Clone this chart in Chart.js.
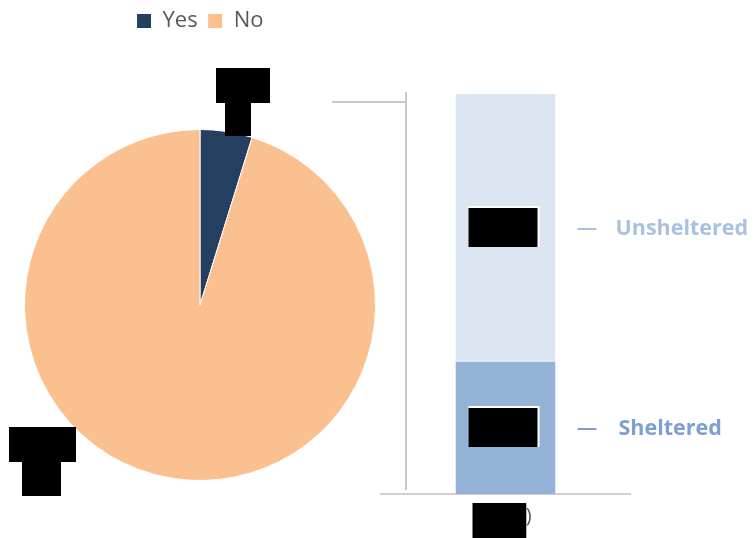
<!DOCTYPE html>
<html>
<head>
<meta charset="utf-8">
<script src="https://cdn.jsdelivr.net/npm/chart.js@4.4.1/dist/chart.umd.min.js"></script>
<style>
  html, body { margin: 0; padding: 0; background: #ffffff; overflow: hidden; }
  #wrap { position: relative; width: 755px; height: 538px; }
  #pieBox { position: absolute; left: 0; top: 0; width: 410px; height: 538px; }
  #barBox { position: absolute; left: 320px; top: 0; width: 435px; height: 538px; }
</style>
</head>
<body>
<div id="wrap">
  <div id="pieBox"><canvas id="pie"></canvas></div>
  <div id="barBox"><canvas id="bar"></canvas></div>
</div>
<script>
// ---- data ----
const pieLabels = ['Yes', 'No'];
const pieValues = [4.8, 95.2];
const pieColors = ['#243f60', '#fac090'];

const barCategories = ['(year)'];
const barSeriesNames = ['Sheltered', 'Unsheltered'];
const shelteredValues = [33];
const unshelteredValues = [67];
const barColors = ['#95b3d7', '#dce6f2'];
const barLabelColors = ['#7ba0d1', '#a9c1e1'];

const FONT = '"Open Sans", "Noto Sans", sans-serif';

// ---- pie chart ----
const legendSpacer = {
  id: 'legendSpacer',
  beforeLayout(chart) {
    const lg = chart.legend;
    if (lg && !lg._patched) {
      const orig = lg.fit.bind(lg);
      lg.fit = function () { orig(); this.height = 72; };
      lg._patched = true;
    }
  }
};

const pieRedact = {
  id: 'pieRedact',
  afterDraw(chart) {
    const ctx = chart.ctx;
    const arc = chart.getDatasetMeta(0).data[0];
    if (!arc) return;
    const cx = arc.x, cy = arc.y;
    ctx.save();
    ctx.fillStyle = '#000000';
    // label for "Yes"
    ctx.fillRect(cx + 16, cy - 237, 54, 35);
    ctx.fillRect(cx + 25, cy - 203, 26, 34);
    // label for "No"
    ctx.fillRect(cx - 191, cy + 122, 67, 35);
    ctx.fillRect(cx - 178, cy + 156, 39, 35);
    ctx.restore();
  }
};

new Chart(document.getElementById('pie'), {
  type: 'pie',
  data: {
    labels: pieLabels,
    datasets: [{
      data: pieValues,
      backgroundColor: pieColors,
      borderColor: '#ffffff',
      borderWidth: 1
    }]
  },
  options: {
    responsive: true,
    maintainAspectRatio: false,
    animation: false,
    layout: { padding: { left: 24, right: 34, top: 0, bottom: 0 } },
    plugins: {
      legend: {
        position: 'top',
        labels: {
          boxWidth: 15,
          boxHeight: 15,
          color: '#595959',
          font: { family: FONT, size: 22 },
          padding: 10
        }
      },
      tooltip: { enabled: false }
    }
  },
  plugins: [legendSpacer, pieRedact]
});

// ---- bar chart ----
const barDecor = {
  id: 'barDecor',
  afterDatasetsDraw(chart) {
    const ctx = chart.ctx;
    const ca = chart.chartArea;
    ctx.save();
    // connector lines
    ctx.strokeStyle = '#c8c8c8';
    ctx.lineWidth = 2;
    ctx.beginPath();
    ctx.moveTo(ca.left + 25, ca.top - 2);
    ctx.lineTo(ca.left + 25, ca.bottom - 4);
    ctx.moveTo(ca.left - 49, ca.top + 8);
    ctx.lineTo(ca.left + 25, ca.top + 8);
    ctx.stroke();

    chart.data.datasets.forEach((ds, i) => {
      const el = chart.getDatasetMeta(i).data[0];
      if (!el) return;
      const cy = (el.y + el.base) / 2;
      const bx = el.x - 37;
      // redacted value label
      ctx.fillStyle = '#ffffff';
      ctx.fillRect(bx, cy - 22, 71, 41);
      ctx.fillStyle = '#000000';
      ctx.fillRect(bx, cy - 20, 69, 39);
      // series name label
      ctx.strokeStyle = barLabelColors[i];
      ctx.lineWidth = 2;
      ctx.beginPath();
      ctx.moveTo(el.x + 72, cy + 1);
      ctx.lineTo(el.x + 91, cy + 1);
      ctx.stroke();
      ctx.fillStyle = barLabelColors[i];
      ctx.font = 'bold 21.5px ' + FONT;
      ctx.textBaseline = 'middle';
      ctx.textAlign = 'left';
      ctx.fillText(ds.label, el.x + (i === 0 ? 113 : 110), cy + 1);
    });
    ctx.restore();
  },
  afterDraw(chart) {
    // redact the category label except the closing parenthesis
    const ctx = chart.ctx;
    const xs = chart.scales.x;
    const cx = xs.getPixelForValue(0);
    ctx.save();
    ctx.font = '20px ' + FONT;
    const full = ctx.measureText(barCategories[0]).width;
    const par = ctx.measureText(')').width;
    const right = cx + full / 2 - par + 0.5;
    const left = cx - 33;
    ctx.fillStyle = '#000000';
    ctx.fillRect(left, chart.chartArea.bottom + 9, right - left, 35);
    ctx.restore();
  }
};

new Chart(document.getElementById('bar'), {
  type: 'bar',
  data: {
    labels: barCategories,
    datasets: [
      { label: barSeriesNames[0], data: shelteredValues, backgroundColor: barColors[0] },
      { label: barSeriesNames[1], data: unshelteredValues, backgroundColor: barColors[1] }
    ]
  },
  options: {
    responsive: true,
    maintainAspectRatio: false,
    animation: false,
    layout: { padding: { left: 61, right: 125, top: 94, bottom: 0 } },
    datasets: { bar: { barPercentage: 0.4, categoryPercentage: 1 } },
    scales: {
      x: {
        stacked: true,
        grid: { display: false, drawTicks: false },
        border: { color: '#cfcfcf', width: 2 },
        ticks: { color: '#595959', font: { family: FONT, size: 20 }, padding: 10 },
        afterFit(scale) { scale.height = 44; }
      },
      y: {
        stacked: true,
        display: false,
        min: 0,
        max: 100
      }
    },
    plugins: {
      legend: { display: false },
      tooltip: { enabled: false }
    }
  },
  plugins: [barDecor]
});
</script>
</body>
</html>
